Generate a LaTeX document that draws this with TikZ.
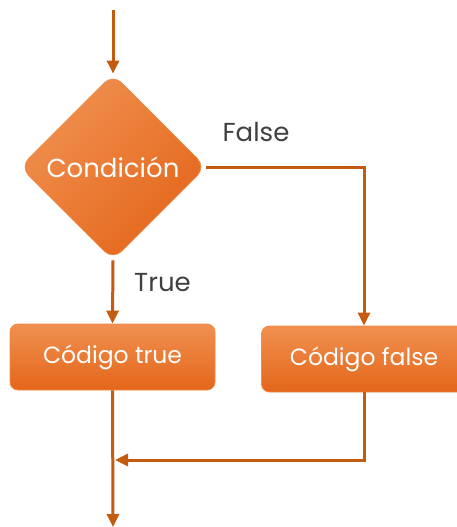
\documentclass[tikz,border=0pt]{standalone}
\usepackage{fontspec}
\setmainfont{Poppins}
\usetikzlibrary{shapes.geometric,arrows.meta,positioning}
\definecolor{flowline}{HTML}{C55A11}
\definecolor{filltop}{HTML}{F09050}
\definecolor{fillbot}{HTML}{E4661A}
\definecolor{fillrim}{HTML}{F08A44}
\definecolor{labgray}{HTML}{404040}
\tikzset{
  cond/.style={diamond, aspect=1, minimum width=186pt, minimum height=186pt,
    inner sep=0pt, rounded corners=12pt, top color=filltop, bottom color=fillbot,
    shading angle=45, draw=fillrim, line width=0.8pt, text=white,
    font=\fontsize{26}{30}\selectfont},
  codebox/.style={rectangle, rounded corners=8pt, minimum width=205pt,
    minimum height=66pt, inner sep=0pt, top color=filltop, bottom color=fillbot,
    draw=fillrim, line width=0.8pt, text=white,
    font=\fontsize{23.5}{27}\selectfont},
  flow/.style={draw=flowline, line width=3pt,
    -{Triangle[length=13pt,width=12pt]}},
  lab/.style={text=labgray, font=\fontsize{26}{30}\selectfont}
}
\begin{document}
\begin{tikzpicture}[x=1pt,y=-1pt]
  \useasboundingbox (0,0) rectangle (456,527);
  % nodes
  \coordinate (start) at (113,10);
  \node[cond] (cond) at (113,167) {Condición};
  \node[codebox] (codetrue) at (112.5,357) {Código true};
  \node[codebox] (codefalse) at (364,359) {Código false};
  \coordinate (merge) at (115,460);
  \coordinate (end) at (113,527);
  % labels
  \node[lab] (labfalse) at (256,132) {False};
  \node[lab] (labtrue) at (162.5,283) {True};
  % connectors
  \begin{scope}[flow]
    \draw (start) -- (cond.north);
    \draw (cond.east) -| (codefalse.north);
    \draw (cond.south) -- (codetrue.north);
    \draw (codefalse.south) |- (merge);
    \draw (codetrue.south) -- (end);
  \end{scope}
\end{tikzpicture}
\end{document}
